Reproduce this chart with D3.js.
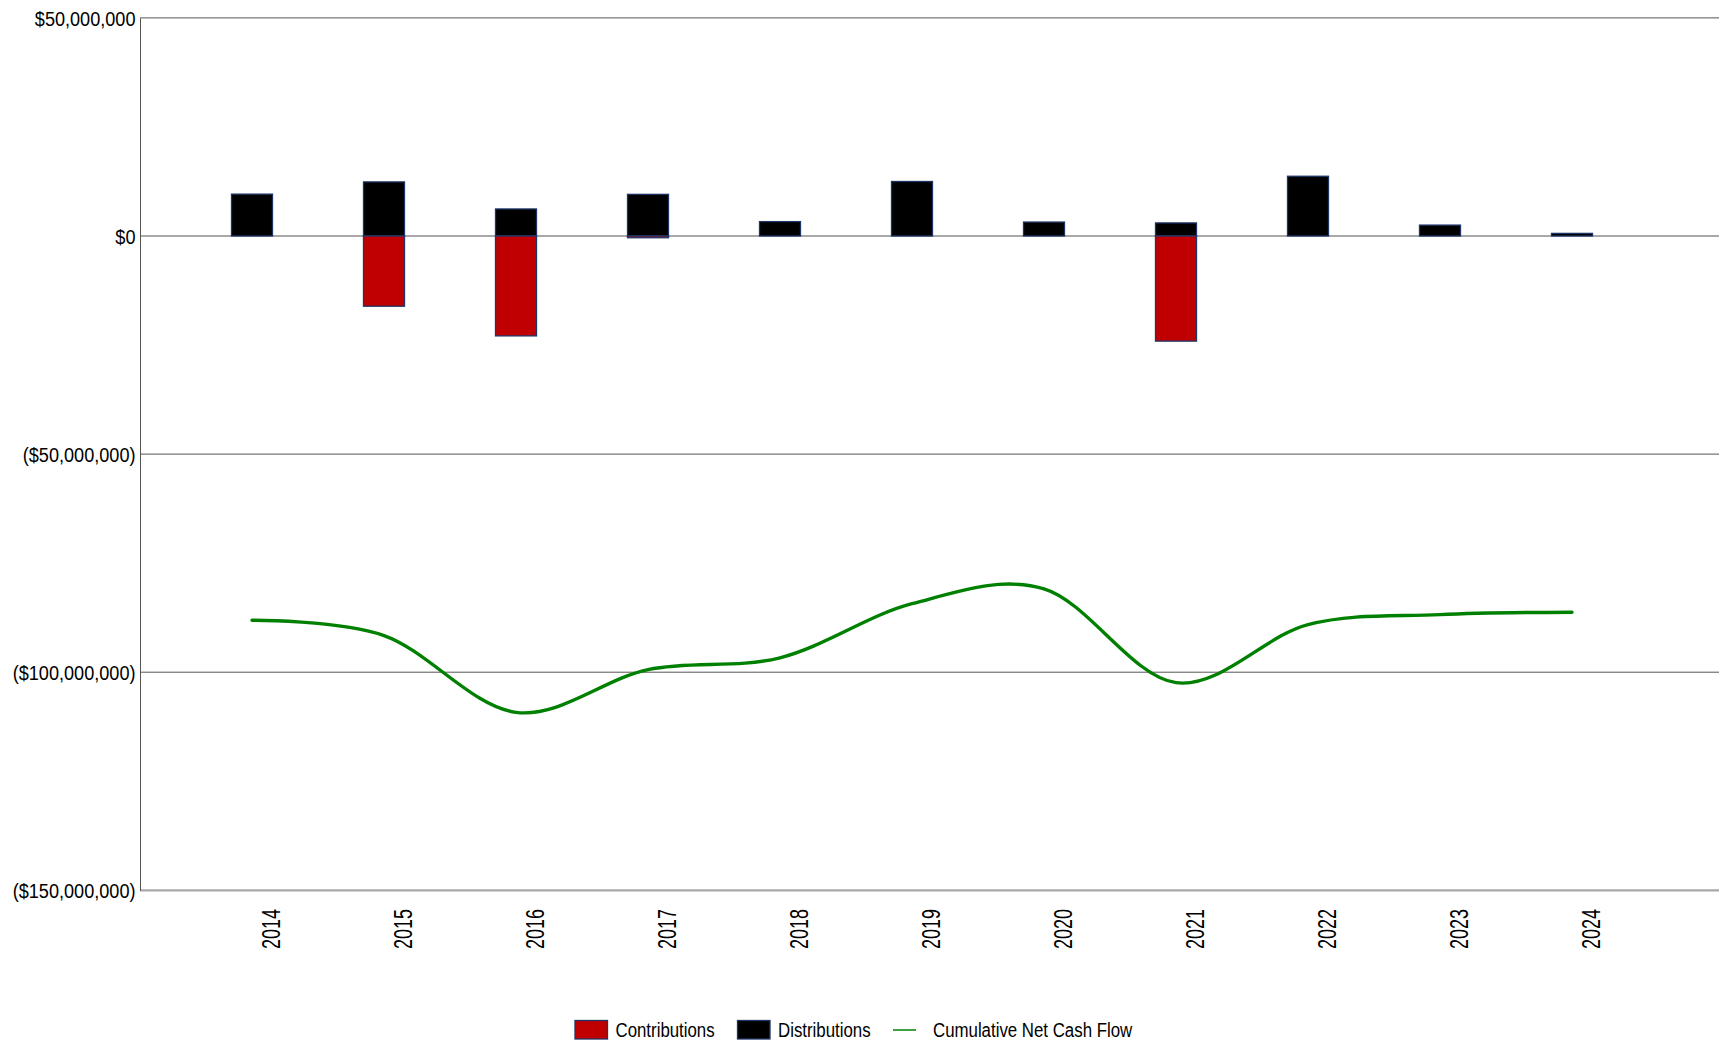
<!DOCTYPE html>
<html>
<head>
<meta charset="utf-8">
<script src="https://cdn.jsdelivr.net/npm/d3@7"></script>
<style>
  html, body { margin: 0; padding: 0; background: #fff; }
  svg { display: block; font-family: "Liberation Sans", Arial, sans-serif; }
</style>
</head>
<body>
<svg id="chart" width="1719" height="1041"></svg>
<script>
// ---- data (values in US$) ----
const years = ["2014","2015","2016","2017","2018","2019","2020","2021","2022","2023","2024"];
const contributions = [0, -16.1e6, -22.9e6, -0.4e6, 0, 0, 0, -24.1e6, 0, 0, 0];
const distributions = [9.6e6, 12.4e6, 6.2e6, 9.55e6, 3.3e6, 12.5e6, 3.2e6, 3.0e6, 13.7e6, 2.5e6, 0.6e6];
const cumulativeNet = [-88.1e6, -91.6e6, -109.2e6, -99.4e6, -96.7e6, -84.3e6, -80.9e6, -102.4e6, -89.1e6, -86.8e6, -86.25e6];
const yTicks = [50e6, 0, -50e6, -100e6, -150e6];
const legendLabels = ["Contributions", "Distributions", "Cumulative Net Cash Flow"];

(function () {
// ---- layout ----
const plotL = 140, plotR = 1719, plotT = 17.9, plotB = 890.3;
const svg = d3.select("#chart");

const x = d3.scalePoint().domain(years).range([252, 1572]);
const y = d3.scaleLinear().domain([-150e6, 50e6]).range([plotB, plotT]);

const fmt = v => {
  const s = "$" + d3.format(",.0f")(Math.abs(v));
  return v < 0 ? "(" + s + ")" : s;
};

// gridlines
svg.append("g").selectAll("line").data(yTicks).join("line")
  .attr("x1", plotL).attr("x2", plotR)
  .attr("y1", d => y(d)).attr("y2", d => y(d))
  .attr("stroke", d => d === -150e6 ? "#a8a8a8" : "#555")
  .attr("stroke-width", d => d === -150e6 ? 2.2 : 1);

// y axis
const sx = 0.884;
const yAxis = svg.append("g").attr("transform", `translate(${plotL},0)`)
  .call(d3.axisLeft(y).tickValues(yTicks).tickSize(0).tickPadding(5).tickFormat(fmt));
yAxis.select(".domain").attr("stroke", "#555").attr("stroke-width", 1);
yAxis.selectAll("text")
  .attr("font-size", "20.5px")
  .attr("font-family", "'Liberation Sans', Arial, sans-serif")
  .attr("fill", "#000")
  .attr("dy", "0.35em")
  .attr("x", -4.5 / sx)
  .attr("transform", `scale(${sx},1)`);

// x labels
svg.append("g").selectAll("text").data(years).join("text")
  .attr("transform", d => `translate(${x(d) + 28},909) rotate(-90) scale(1,1.42)`)
  .attr("text-anchor", "end")
  .attr("font-size", "18px")
  .attr("fill", "#000")
  .text(d => d);

// bars
const bw = 41;
const barStroke = "#1f3568";
const rows = years.map((yr, i) => ({ yr, c: contributions[i], d: distributions[i] }));
svg.append("g").selectAll("rect.dist").data(rows.filter(r => r.d !== 0)).join("rect")
  .attr("class", "dist")
  .attr("x", r => x(r.yr) - bw / 2)
  .attr("width", bw)
  .attr("y", r => y(r.d))
  .attr("height", r => y(0) - y(r.d))
  .attr("fill", "#000")
  .attr("stroke", barStroke).attr("stroke-width", 1.3);
svg.append("g").selectAll("rect.contrib").data(rows.filter(r => r.c !== 0)).join("rect")
  .attr("class", "contrib")
  .attr("x", r => x(r.yr) - bw / 2)
  .attr("width", bw)
  .attr("y", y(0))
  .attr("height", r => y(r.c) - y(0))
  .attr("fill", "#c00000")
  .attr("stroke", barStroke).attr("stroke-width", 1.3);

// cumulative line
const line = d3.line()
  .x((d, i) => x(years[i]))
  .y(d => y(d))
  .curve(d3.curveCardinal.tension(0));
svg.append("path").datum(cumulativeNet)
  .attr("d", line)
  .attr("fill", "none")
  .attr("stroke", "#008000")
  .attr("stroke-width", 3.4)
  .attr("stroke-linecap", "round");

// legend
const lg = svg.append("g");
const lsx = 0.81;
const legendItems = [
  { label: legendLabels[0], type: "rect", fill: "#c00000", sx0: 575, tx: 615.5 },
  { label: legendLabels[1], type: "rect", fill: "#000", sx0: 737.5, tx: 778 },
  { label: legendLabels[2], type: "line", fill: "#008000", sx0: 893, tx: 933 }
];
legendItems.forEach(it => {
  if (it.type === "rect") {
    lg.append("rect").attr("x", it.sx0).attr("y", 1020.5).attr("width", 32.5).attr("height", 18.5)
      .attr("fill", it.fill).attr("stroke", barStroke).attr("stroke-width", 1.3);
  } else {
    lg.append("line").attr("x1", it.sx0).attr("x2", it.sx0 + 23).attr("y1", 1030).attr("y2", 1030)
      .attr("stroke", it.fill).attr("stroke-width", 1.5);
  }
  lg.append("text")
    .attr("x", it.tx / lsx).attr("y", 1036.7)
    .attr("transform", `scale(${lsx},1)`)
    .attr("font-size", "20.8px")
    .attr("fill", "#000")
    .text(it.label);
});
})();
</script>
</body>
</html>
